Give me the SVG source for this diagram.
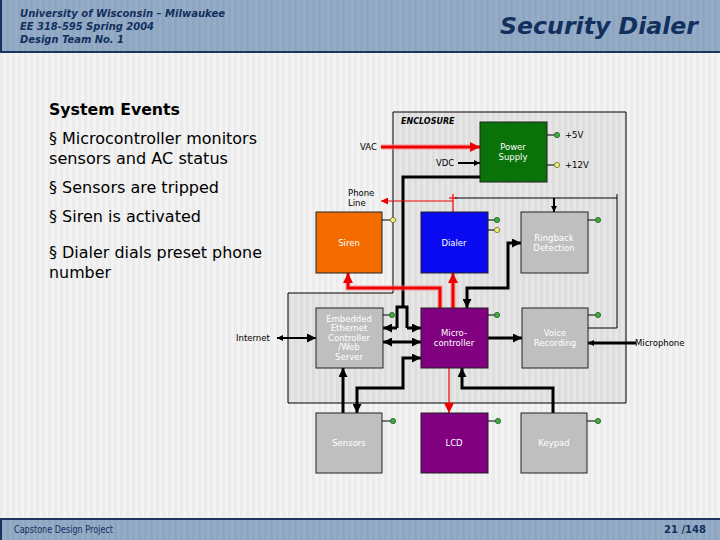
<svg xmlns="http://www.w3.org/2000/svg" width="720" height="540" viewBox="0 0 720 540">
<defs>
<pattern id="stripes" width="6" height="10" patternUnits="userSpaceOnUse">
<rect width="6" height="10" fill="#f3f3f3"/>
<rect width="3" height="10" fill="#ececec"/>
</pattern>
<pattern id="stripes2" width="6" height="10" patternUnits="userSpaceOnUse">
<rect width="6" height="10" fill="#e6e6e6"/>
<rect width="3" height="10" fill="#dedede"/>
</pattern>
<pattern id="hstripes" width="6" height="10" patternUnits="userSpaceOnUse">
<rect width="6" height="10" fill="#95acc6"/>
<rect width="3" height="10" fill="#8ea6c1"/>
</pattern>
<marker id="ab" viewBox="0 0 10 10" refX="10" refY="5" markerWidth="9" markerHeight="9" markerUnits="userSpaceOnUse" orient="auto-start-reverse">
<path d="M0,0 L10,5 L0,10 z" fill="#000"/>
</marker>
<marker id="abs" viewBox="0 0 10 10" refX="10" refY="5" markerWidth="6" markerHeight="6" markerUnits="userSpaceOnUse" orient="auto-start-reverse">
<path d="M0,0 L10,5 L0,10 z" fill="#000"/>
</marker>
<marker id="ar" viewBox="0 0 10 10" refX="10" refY="5" markerWidth="10" markerHeight="10" markerUnits="userSpaceOnUse" orient="auto-start-reverse">
<path d="M0,0 L10,5 L0,10 z" fill="#ee0000"/>
</marker>
<marker id="ars" viewBox="0 0 10 10" refX="10" refY="5" markerWidth="7" markerHeight="7" markerUnits="userSpaceOnUse" orient="auto-start-reverse">
<path d="M0,0 L10,5 L0,10 z" fill="#ee0000"/>
</marker>
<style>
.hdr{font-family:"DejaVu Sans",Verdana,sans-serif;font-weight:bold;font-style:italic;fill:#12305e}
.body{font-family:"DejaVu Sans",Verdana,sans-serif;font-size:15px;fill:#000}
.lbl{font-family:"DejaVu Sans",Verdana,sans-serif;font-size:8.5px;fill:#000}
.box{stroke:#222;stroke-width:1}
.bt{font-family:"DejaVu Sans",Verdana,sans-serif;font-size:8.5px;fill:#fff;text-anchor:middle}
.thick{fill:none;stroke:#000;stroke-width:3}
.mid{fill:none;stroke:#000;stroke-width:2}
.thin{fill:none;stroke:#000;stroke-width:1}
.red{fill:none;stroke:#ee0000;stroke-width:3}
.glow{fill:none;stroke:#ff8080;stroke-width:6;stroke-opacity:0.45}
.redthin{fill:none;stroke:#ee0000;stroke-width:1.2}
.pinG{fill:#3fae3f;stroke:#1b5e1b;stroke-width:0.8}
.pinY{fill:#f2f27a;stroke:#6b6b20;stroke-width:0.8}
</style>
</defs>

<rect x="0" y="0" width="720" height="540" fill="url(#stripes)"/>

<g id="header">
<rect x="0" y="0" width="720" height="52" fill="url(#hstripes)"/>
<line x1="0" y1="52" x2="720" y2="52" stroke="#1c355e" stroke-width="2"/>
<line x1="1" y1="0" x2="1" y2="52" stroke="#1c355e" stroke-width="2"/>
<text class="hdr" x="20" y="17" font-size="10" textLength="205" lengthAdjust="spacingAndGlyphs">University of Wisconsin – Milwaukee</text>
<text class="hdr" x="20" y="30" font-size="10" textLength="134" lengthAdjust="spacingAndGlyphs">EE 318-595 Spring 2004</text>
<text class="hdr" x="20" y="43" font-size="10" textLength="104" lengthAdjust="spacingAndGlyphs">Design Team No. 1</text>
<text class="hdr" x="698" y="34" font-size="23" text-anchor="end" textLength="198" lengthAdjust="spacingAndGlyphs">Security Dialer</text>
</g>

<g id="footer">
<rect x="0" y="519" width="720" height="21" fill="url(#hstripes)"/>
<line x1="0" y1="519" x2="720" y2="519" stroke="#1c355e" stroke-width="2"/>
<line x1="1" y1="519" x2="1" y2="540" stroke="#1c355e" stroke-width="2"/>
<text x="14" y="533" font-family="DejaVu Sans, Verdana, sans-serif" font-size="10" fill="#12305e" textLength="99" lengthAdjust="spacingAndGlyphs">Capstone Design Project</text>
<text x="706" y="533" font-family="DejaVu Sans, Verdana, sans-serif" font-size="10" font-weight="bold" fill="#12305e" text-anchor="end">21 /148</text>
</g>

<g id="events">
<text x="49" y="115" font-family="DejaVu Sans, Verdana, sans-serif" font-size="15" font-weight="bold" fill="#000" textLength="131" lengthAdjust="spacingAndGlyphs">System Events</text>
<text class="body" x="49" y="144" textLength="208" lengthAdjust="spacingAndGlyphs">§ Microcontroller monitors</text>
<text class="body" x="49" y="164" textLength="179" lengthAdjust="spacingAndGlyphs">sensors and AC status</text>
<text class="body" x="49" y="193" textLength="170" lengthAdjust="spacingAndGlyphs">§ Sensors are tripped</text>
<text class="body" x="49" y="222" textLength="152" lengthAdjust="spacingAndGlyphs">§ Siren is activated</text>
<text class="body" x="49" y="258" textLength="213" lengthAdjust="spacingAndGlyphs">§ Dialer dials preset phone</text>
<text class="body" x="49" y="278" textLength="62" lengthAdjust="spacingAndGlyphs">number</text>
</g>

<g id="enclosure">
<polygon points="393,112 626,112 626,403 288,403 288,293 393,293" fill="url(#stripes2)" stroke="#000" stroke-width="1"/>
<text x="401" y="124" font-family="DejaVu Sans, Verdana, sans-serif" font-size="8" font-style="italic" font-weight="bold" fill="#000">ENCLOSURE</text>
</g>

<g id="connectors">
<line class="glow" x1="381" y1="147" x2="474" y2="147"/>
<line class="red" x1="381" y1="147" x2="480" y2="147" marker-end="url(#ar)"/>
<text class="lbl" x="360" y="150">VAC</text>
<line class="mid" x1="458" y1="163" x2="480" y2="163" marker-end="url(#abs)"/>
<text class="lbl" x="436" y="166">VDC</text>
<line class="thin" x1="547" y1="135" x2="555" y2="135"/>
<circle class="pinG" cx="557" cy="135" r="2.6"/>
<text class="lbl" x="565" y="138">+5V</text>
<line class="thin" x1="547" y1="165" x2="555" y2="165"/>
<circle class="pinY" cx="557" cy="165" r="2.6"/>
<text class="lbl" x="565" y="168">+12V</text>
<path class="thick" d="M480,177 H403 V307"/>
<path class="thick" d="M397,328 V307 H407 V328"/>
<line class="thick" x1="397" y1="328" x2="383" y2="328" marker-end="url(#ab)"/>
<line class="thick" x1="407" y1="328" x2="421" y2="328" marker-end="url(#ab)"/>
<line class="redthin" x1="453" y1="194" x2="453" y2="212"/>
<line class="redthin" x1="449" y1="198" x2="457" y2="198"/>
<line class="redthin" x1="453" y1="201" x2="381" y2="201" marker-end="url(#ars)"/>
<text class="lbl" x="348" y="196">Phone</text>
<text class="lbl" x="348" y="206">Line</text>
<path class="thin" d="M455,198 H617 V328 H588"/>
<line class="thin" x1="617" y1="198" x2="617" y2="194"/>
<line class="mid" x1="554" y1="198" x2="554" y2="212" marker-end="url(#abs)"/>
<path class="glow" d="M440,308 V288 H348 V280"/>
<path class="red" d="M440,308 V288 H348 V273" marker-end="url(#ar)"/>
<line class="glow" x1="453" y1="308" x2="453" y2="280"/>
<line class="red" x1="453" y1="308" x2="453" y2="273" marker-end="url(#ar)"/>
<path class="thick" d="M467,308 V288 H508 V243 H521" marker-start="url(#ab)" marker-end="url(#ab)"/>
<line class="thick" x1="383" y1="342" x2="421" y2="342" marker-start="url(#ab)" marker-end="url(#ab)"/>
<line class="mid" x1="277" y1="338" x2="316" y2="338" marker-start="url(#abs)" marker-end="url(#ab)"/>
<text class="lbl" x="236" y="341">Internet</text>
<line class="thick" x1="488" y1="338" x2="522" y2="338" marker-end="url(#ab)"/>
<line class="thick" x1="636" y1="343" x2="588" y2="343" marker-end="url(#abs)"/>
<text class="lbl" x="635" y="346">Microphone</text>
<path class="thick" d="M421,358 H403 V388 H357 V413" marker-start="url(#ab)" marker-end="url(#ab)"/>
<line class="thick" x1="343" y1="413" x2="343" y2="368" marker-end="url(#ab)"/>
<path class="thick" d="M553,413 V388 H462 V368" marker-end="url(#ab)"/>
<line class="redthin" x1="449" y1="368" x2="449" y2="413" stroke-width="2" marker-end="url(#ar)"/>
</g>

<g id="power-supply">
<rect class="box" x="480" y="122" width="67" height="60" fill="#097209"/>
<text class="bt" x="513" y="150">Power</text>
<text class="bt" x="513" y="160">Supply</text>
</g>

<g id="siren">
<rect class="box" x="316" y="212" width="66" height="61" fill="#f46c00"/>
<text class="bt" x="349" y="246">Siren</text>
<line class="thin" x1="382" y1="220" x2="390" y2="220"/>
<circle class="pinY" cx="393" cy="220" r="2.6"/>
</g>

<g id="dialer">
<rect class="box" x="421" y="212" width="67" height="61" fill="#0a0af0"/>
<text class="bt" x="454" y="246">Dialer</text>
<line class="thin" x1="488" y1="220" x2="495" y2="220"/>
<circle class="pinG" cx="497" cy="220" r="2.6"/>
<line class="thin" x1="488" y1="230" x2="495" y2="230"/>
<circle class="pinY" cx="497" cy="230" r="2.6"/>
</g>

<g id="ringback">
<rect class="box" x="521" y="212" width="67" height="61" fill="#bfbfbf"/>
<text class="bt" x="554" y="241">Ringback</text>
<text class="bt" x="554" y="251">Detection</text>
<line class="thin" x1="588" y1="220" x2="596" y2="220"/>
<circle class="pinG" cx="598" cy="220" r="2.6"/>
</g>

<g id="ethernet">
<rect class="box" x="316" y="308" width="67" height="60" fill="#bfbfbf"/>
<text class="bt" x="349" y="322">Embedded</text>
<text class="bt" x="349" y="331">Ethernet</text>
<text class="bt" x="349" y="341">Controller</text>
<text class="bt" x="349" y="350">/Web</text>
<text class="bt" x="349" y="360">Server</text>
<line class="thin" x1="383" y1="315" x2="390" y2="315"/>
<circle class="pinG" cx="392" cy="315" r="2.6"/>
</g>

<g id="microcontroller">
<rect class="box" x="421" y="308" width="67" height="60" fill="#800080"/>
<text class="bt" x="454" y="336">Micro-</text>
<text class="bt" x="454" y="346">controller</text>
<line class="thin" x1="488" y1="315" x2="495" y2="315"/>
<circle class="pinG" cx="497" cy="315" r="2.6"/>
</g>

<g id="voice">
<rect class="box" x="522" y="308" width="66" height="60" fill="#bfbfbf"/>
<text class="bt" x="555" y="336">Voice</text>
<text class="bt" x="555" y="346">Recording</text>
<line class="thin" x1="588" y1="315" x2="596" y2="315"/>
<circle class="pinG" cx="598" cy="315" r="2.6"/>
</g>

<g id="sensors">
<rect class="box" x="316" y="413" width="66" height="60" fill="#bfbfbf"/>
<text class="bt" x="349" y="446">Sensors</text>
<line class="thin" x1="382" y1="421" x2="391" y2="421"/>
<circle class="pinG" cx="393" cy="421" r="2.6"/>
</g>

<g id="lcd">
<rect class="box" x="421" y="413" width="67" height="60" fill="#800080"/>
<text class="bt" x="454" y="446">LCD</text>
<line class="thin" x1="488" y1="421" x2="496" y2="421"/>
<circle class="pinG" cx="498" cy="421" r="2.6"/>
</g>

<g id="keypad">
<rect class="box" x="521" y="413" width="66" height="60" fill="#bfbfbf"/>
<text class="bt" x="554" y="446">Keypad</text>
<line class="thin" x1="587" y1="421" x2="596" y2="421"/>
<circle class="pinG" cx="598" cy="421" r="2.6"/>
</g>
</svg>
